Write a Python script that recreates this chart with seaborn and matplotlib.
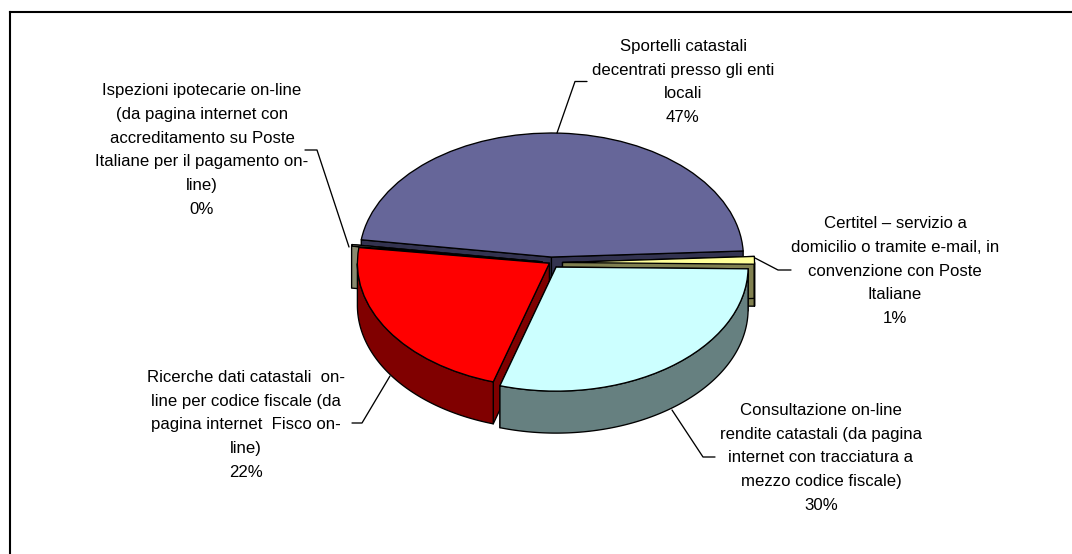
import numpy as np
import seaborn as sns
import matplotlib
matplotlib.use("Agg")
import matplotlib.pyplot as plt
from matplotlib.patches import Polygon

categories = [
    "Sportelli catastali\ndecentrati presso gli enti\nlocali",
    "Certitel – servizio a\ndomicilio o tramite e-mail, in\nconvenzione con Poste\nItaliane",
    "Consultazione on-line\nrendite catastali (da pagina\ninternet con tracciatura a\nmezzo codice fiscale)",
    "Ricerche dati catastali  on-\nline per codice fiscale (da\npagina internet  Fisco on-\nline)",
    "Ispezioni ipotecarie on-line\n(da pagina internet con\naccreditamento su Poste\nItaliane per il pagamento on-\nline)",
]
values = [47.0, 1.0, 29.5, 22.3, 0.2]

top_colors = ["#666699", "#FFFF99", "#CCFFFF", "#FF0000", "#F5F5D0"]
side_colors = ["#333350", "#808050", "#668080", "#800000", "#8A8A70"]
explode = [0.045, 0.06, 0.045, 0.01, 0.047]
draw_order = [0, 4, 1, 3, 2]

label_xy = [(683, 82), (895, 271), (821, 458), (246, 425), (202, 150)]
leaders = [
    [(557, 133), (575, 81.5), (587, 81.5)],
    [(755, 258), (778, 270), (791, 270)],
    [(672, 410), (703, 457), (715, 457)],
    [(390, 376), (362, 423), (352, 423)],
    [(349, 247), (317, 150), (305, 150)],
]

W, H = 1072, 554
CX, CY, RX, RY = 551, 262.6, 192, 124
DEPTH = 42 / RY
LW = 0.95

sns.set_style("white")
plt.rcParams["font.family"] = ["Liberation Sans", "DejaVu Sans"]

fig = plt.figure(figsize=(W / 100, H / 100), dpi=100, facecolor="white")
ax = fig.add_axes([0, 0, 1, 1])

wedges, _ = ax.pie(
    values,
    colors=top_colors,
    explode=explode,
    startangle=172,
    counterclock=False,
    wedgeprops=dict(edgecolor="black", linewidth=LW, joinstyle="round"),
)
ax.set_aspect("auto")
ax.set_xlim(-CX / RX, (W - CX) / RX)
ax.set_ylim(-(H - CY) / RY, CY / RY)
ax.axis("off")


def extrude(pts):
    pts = np.asarray(pts)
    low = pts - [0, DEPTH]
    return np.vstack([pts, low[::-1]])


for z, i in enumerate(draw_order):
    w = wedges[i]
    c = np.array(w.center)
    base = 10 * z + 1
    style = dict(facecolor=side_colors[i], edgecolor="black", linewidth=LW, joinstyle="round")
    for k, th in enumerate((w.theta1, w.theta2)):
        t = np.deg2rad(th)
        edge = c + w.r * np.array([np.cos(t), np.sin(t)])
        ax.add_patch(Polygon(extrude([c, edge]), zorder=base + k, **style))
    t = np.deg2rad(np.linspace(w.theta1, w.theta2, 400))
    t = t[np.sin(t) < 0]
    if t.size > 1:
        arc = np.column_stack([c[0] + w.r * np.cos(t), c[1] + w.r * np.sin(t)])
        ax.add_patch(Polygon(extrude(arc), zorder=base + 2, **style))
    w.set_zorder(base + 3)

to_fig = lambda x, y: (x / W, 1 - y / H)

for cat, val, (x, y), path in zip(categories, values, label_xy, leaders):
    fx, fy = to_fig(x, y)
    fig.text(fx, fy, f"{cat}\n{round(val)}%", ha="center", va="center",
             multialignment="center", fontsize=12.1, linespacing=1.72, color="black")
    pts = [to_fig(*p) for p in path]
    fig.add_artist(plt.Line2D([p[0] for p in pts], [p[1] for p in pts],
                              color="black", lw=0.95, transform=fig.transFigure))

for xs, ys in (([9.5, 9.5], [H, 12]), ([9.5, W], [12, 12])):
    fig.add_artist(plt.Line2D(np.array(xs) / W, 1 - np.array(ys) / H,
                              color="black", lw=1.5, transform=fig.transFigure,
                              solid_capstyle="projecting"))

fig.savefig("out.png", dpi=100)
